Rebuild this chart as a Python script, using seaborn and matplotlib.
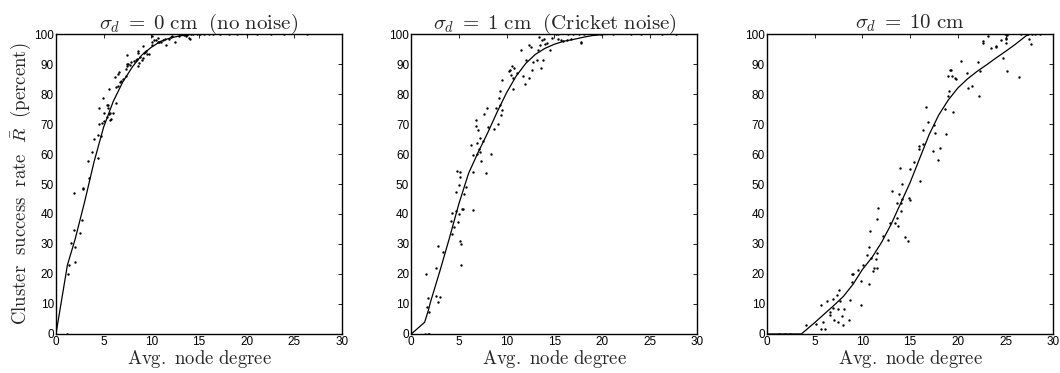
import numpy as np
import pandas as pd
import matplotlib
matplotlib.use("Agg")
import matplotlib.pyplot as plt
import seaborn as sns

titles = [r"$\sigma_d\;=\;0\ \mathrm{cm\ \ (no\ noise)}$",
          r"$\sigma_d\;=\;1\ \mathrm{cm\ \ (Cricket\ noise)}$",
          r"$\sigma_d\;=\;10\ \mathrm{cm}$"]
xlabel = r"$\mathrm{Avg.\ node\ degree}$"
ylabel = r"$\mathrm{Cluster\ \ success\ \ rate}\ \ \bar{R}\ \ \mathrm{(percent)}$"
xticks = [0, 5, 10, 15, 20, 25, 30]
yticks = [0, 10, 20, 30, 40, 50, 60, 70, 80, 90, 100]

# Panel 1 (no noise) scatter
p1_x = [1.2, 1.3, 1.35, 1.6, 1.9, 1.9, 1.96, 2.0, 2.5, 2.7, 2.8, 2.85, 3.4, 3.5, 3.8, 3.95,
        4.4, 4.4, 4.5, 4.5, 4.7, 4.9, 4.85, 5.0, 5.05, 5.3, 5.4, 5.45, 5.5, 5.55, 5.65, 5.7,
        5.6, 5.8, 6.0, 6.2, 6.3, 6.3, 6.5, 6.5, 6.6, 6.7, 6.8, 7.0, 7.3, 7.35, 7.4, 7.4, 7.45,
        7.6, 7.8, 7.9, 8.2, 8.4, 8.5, 8.6, 8.65, 8.65, 8.75, 8.8, 9.0, 9.1, 9.15, 9.2, 9.3,
        9.45, 9.55, 9.8, 10.05, 10.05, 10.1, 10.3, 10.45, 10.65, 10.7, 10.8, 11.0, 11.2, 11.4,
        11.5, 11.8, 12.1, 12.2, 12.5, 12.85, 13.4, 13.6, 13.75, 13.9, 14.0, 14.2, 14.4, 14.8,
        15.1, 15.5, 16.0, 16.5, 17.2, 18.1, 19.0, 20.0, 21.1, 22.5, 23.9, 26.3]
p1_y = [0, 20.1, 22.9, 30.4, 47, 34.6, 29, 24.1, 33.7, 37.9, 48.2, 48.8, 57.7, 52.1, 60.7, 65.1,
        58.7, 66.2, 75.4, 69.9, 65.9, 78.7, 70.5, 73.7, 71, 72.5, 76.3, 75.5, 76.2, 73.5, 73.8, 71.5,
        81.6, 71.6, 73.8, 85.8, 77.1, 82.5, 82.6, 86.8, 87.2, 84, 84.5, 85, 86, 88.5, 93.1, 90, 89.5,
        90, 89.6, 90.6, 90.9, 91.3, 91.8, 93.8, 94.2, 89.5, 90.2, 92.5, 91.5, 92, 95.9, 93.8, 93.9,
        94.3, 93.5, 93.3, 99.2, 96.2, 97.4, 98, 98, 98.8, 97.4, 97.2, 97.4, 98, 98.4,
        96.4, 98.2, 98.9, 99.5, 97.4, 99.5, 99.8, 99.4, 99.7, 98.6, 98.2, 100, 100, 100,
        100, 100, 100, 100, 100, 100, 100, 100, 100, 100, 100, 100]
# Panel 1 fit curve
c1_x = [0, 1.2, 2, 3, 4, 5, 6, 7, 8, 9, 10, 11, 12, 13, 14, 15, 30]
c1_y = [0, 23, 31.5, 44, 57.5, 69, 77.5, 84, 89, 93, 95.6, 97.6, 98.7, 99.4, 99.8, 100, 100]

# Panel 2 (Cricket noise) scatter
p2_x = [1.47, 1.75, 1.89, 1.58, 1.72, 1.65, 1.86, 2.56, 2.63, 2.8, 3.01, 2.77, 3.29, 4.2, 4.3,
        4.3, 4.5, 4.69, 4.7, 4.8, 4.87, 4.97, 4.97, 5.07, 5.15, 5.1, 5.18, 5.25, 5.3, 5.4, 5.57,
        5.74, 6.23, 6.44, 6.48, 6.44, 6.75, 6.79, 6.86, 6.93, 7.04, 7.07, 7.18, 7.25, 7.35, 7.56,
        7.6, 7.8, 7.95, 8.0, 8.33, 8.71, 8.89, 9.1, 9.2, 9.28, 9.35, 9.45, 9.52, 9.56, 10.25,
        10.3, 10.47, 10.57, 10.64, 10.7, 10.8, 11.1, 11.45, 11.7, 11.87, 12.04, 12.3, 12.36,
        12.6, 12.67, 12.8, 13.2, 13.27, 13.37, 13.5, 13.58, 13.79, 13.72, 13.9, 14.0, 14.25,
        14.5, 14.7, 15.19, 15.33, 15.4, 15.7, 15.9, 16.35, 16.4, 16.77, 16.98, 17.57, 17.75,
        17.8, 18.1, 19.0, 19.9, 21.1, 23.0, 24.1, 26.3, 27.8]
p2_y = [0, 0, 0, 19.9, 12.1, 8.9, 7.3, 22, 12.6, 10.7, 12.2, 29.3, 27.3, 37.8, 40.4,
        33.2, 35.6, 41, 47.2, 54.2, 37.2, 40, 49.8, 52.2, 54, 31, 30.1, 23.1, 41.8, 41.6, 46.6,
        49, 63.1, 53.9, 41.4, 59.6, 71.2, 69.3, 60, 63.7, 68.1, 61.6, 60.7, 65.3, 57.6, 64.2,
        73.2, 53.7, 75.4, 68.9, 60, 68.2, 75.4, 70.1, 78.8, 81.1, 76.4, 73.1, 74.7, 84.8, 87.7,
        87.9, 86.2, 89.3, 85.3, 81.6, 88.7, 87, 94.6, 86.1, 83.4, 91.4, 85.4, 96.3,
        95.7, 87.9, 90.7, 91.4, 94.6, 99, 96.2, 88.7, 91.4, 97.9, 98.2, 96.8, 97.1,
        94.6, 98.7, 100, 98.2, 100, 97.9, 97.7, 97.9, 100, 98.2, 99.9, 100, 97.4,
        97, 100, 100, 100, 100, 100, 100, 100, 100]
c2_x = [0, 1.4, 1.8, 2, 3, 4, 5, 6, 7, 8, 9, 10, 11, 12, 13, 14, 15, 16, 17, 18, 19, 20, 22, 30]
c2_y = [0, 3.9, 8, 10.5, 21, 32, 43.5, 53.5, 60.5, 67, 74, 80.5, 86, 90.2, 93.2, 95.2, 96.6,
        97.6, 98.2, 98.9, 99.5, 99.8, 100, 100]

# Panel 3 (10 cm noise) scatter
p3_x = [1.3, 1.9, 2.45, 4.06, 5.18, 5.67, 5.67, 5.9, 6.1, 6.3, 6.55, 6.65, 6.9, 6.93, 7.0, 7.35,
        7.39, 7.46, 7.5, 7.7, 7.88, 7.95, 8.1, 8.58, 8.75, 8.86, 8.96, 9.0, 9.52, 9.9, 9.8, 10.1,
        10.5, 10.7, 10.7, 10.78, 10.9, 11.13, 11.2, 11.38, 11.48, 11.55, 11.55, 11.66, 12.18,
        12.64, 12.85, 13.06, 13.4, 13.58, 13.65, 13.76, 13.83, 13.9, 14.0, 14.0, 14.1, 14.2,
        14.5, 14.74, 14.9, 14.95, 15.0, 15.4, 15.93, 15.93, 16.0, 16.35, 16.35, 16.7, 16.84,
        17.43, 17.5, 17.6, 17.95, 18.1, 18.7, 18.8, 18.97, 19.0, 19.1, 19.2, 19.25, 19.39, 19.5,
        19.7, 19.85, 20.3, 21.0, 21.03, 21.45, 22.16, 22.26, 22.3, 22.68, 22.68, 23.2, 23.5,
        24.0, 24.05, 24.57, 24.75, 24.9, 25.0, 25.03, 25.1, 25.2, 25.2, 26.4, 26.67, 27.3, 27.4,
        27.5, 27.65, 27.8, 28.1, 28.6]
p3_y = [0, 0, 0, 2.9, 3.4, 9.8, 1.8, 4.0, 1.8, 11.1, 7.3, 6.2, 8.8, 11.7, 4.8, 12.9,
        4.0, 8.2, 14.8, 11, 5.9, 2.9, 8.4, 4.6, 11.2, 17.3, 19.9, 20.1, 21.4, 9.8, 17.7, 23,
        26.3, 29, 16.7, 34.3, 25.4, 21, 22.1, 24.9, 27.1, 22.1, 38.2, 42.1, 32.6,
        31.3, 37.1, 47.8, 37.1, 38.6, 43.8, 36.1, 46.8, 55.4, 43.8, 41, 44.9, 49.9,
        32.3, 30.9, 45.4, 44.6, 55, 57.2, 62.6, 61.8, 51, 68.1, 63.2, 75.8, 70.6,
        61, 69.6, 67, 58.1, 62.1, 75.1, 66.6, 86, 79.3, 81, 88.1, 88.1, 85.9, 73.9,
        85.4, 84.9, 90.9, 87, 82.1, 82.6, 90.6, 79.3, 87.7, 96.9, 97.6, 99.2, 95.2,
        96.1, 95.8, 98.1, 92.1, 100, 98.8, 98.2, 97, 99.6, 87.7, 85.7, 100, 100, 99.9,
        98.3, 96.8, 100, 100, 100]
c3_x = [0, 3.6, 5, 7, 8, 9, 10, 11, 12, 13, 14, 15, 16, 17, 18, 19, 20, 21, 22, 23, 24, 25, 26, 27.4, 30]
c3_y = [0, 0, 3.8, 9.5, 12.5, 16.5, 21.5, 25.5, 30.5, 36.5, 43.5, 50.5, 58.5, 66.5, 73, 78, 82,
        85, 87.5, 89.7, 92, 94.2, 96.5, 100, 100]

panels = [(p1_x, p1_y, c1_x, c1_y), (p2_x, p2_y, c2_x, c2_y), (p3_x, p3_y, c3_x, c3_y)]

sns.set_theme(style="white")
plt.rcParams.update({
    "font.family": ["Liberation Sans", "DejaVu Sans"],
    "mathtext.fontset": "cm",
    "xtick.direction": "in",
    "ytick.direction": "in",
    "xtick.top": True,
    "ytick.right": True,
    "xtick.major.size": 3,
    "ytick.major.size": 3,
    "xtick.major.width": 0.6,
    "ytick.major.width": 0.6,
    "xtick.color": "black",
    "ytick.color": "black",
    "axes.edgecolor": "black",
    "axes.linewidth": 1.0,
})

fig = plt.figure(figsize=(10.6, 3.73), dpi=100)
lefts = [0.0528, 0.388, 0.7236]
for i, (px, py, cx, cy) in enumerate(panels):
    ax = fig.add_axes([lefts[i], 0.1046, 0.27, 0.8042])
    sdf = pd.DataFrame({"x": px, "y": py})
    cdf = pd.DataFrame({"x": cx, "y": cy})
    sns.lineplot(data=cdf, x="x", y="y", ax=ax, color="black", lw=0.9,
                 sort=False, estimator=None)
    sns.scatterplot(data=sdf, x="x", y="y", ax=ax, color="black", s=3,
                    marker="o", linewidth=0)
    ax.set_xlim(0, 30)
    ax.set_ylim(0, 100)
    ax.set_xticks(xticks)
    ax.set_yticks(yticks)
    ax.tick_params(labelsize=8.5, pad=1.5)
    ax.set_title(titles[i], fontsize=15, pad=4)
    ax.set_xlabel(xlabel, fontsize=13.5, labelpad=0)
    if i == 0:
        ax.set_ylabel(ylabel, fontsize=13.5, labelpad=1)
    else:
        ax.set_ylabel("")
    for s in ax.spines.values():
        s.set_visible(True)
        s.set_color("black")

fig.savefig("out.png", dpi=100)
